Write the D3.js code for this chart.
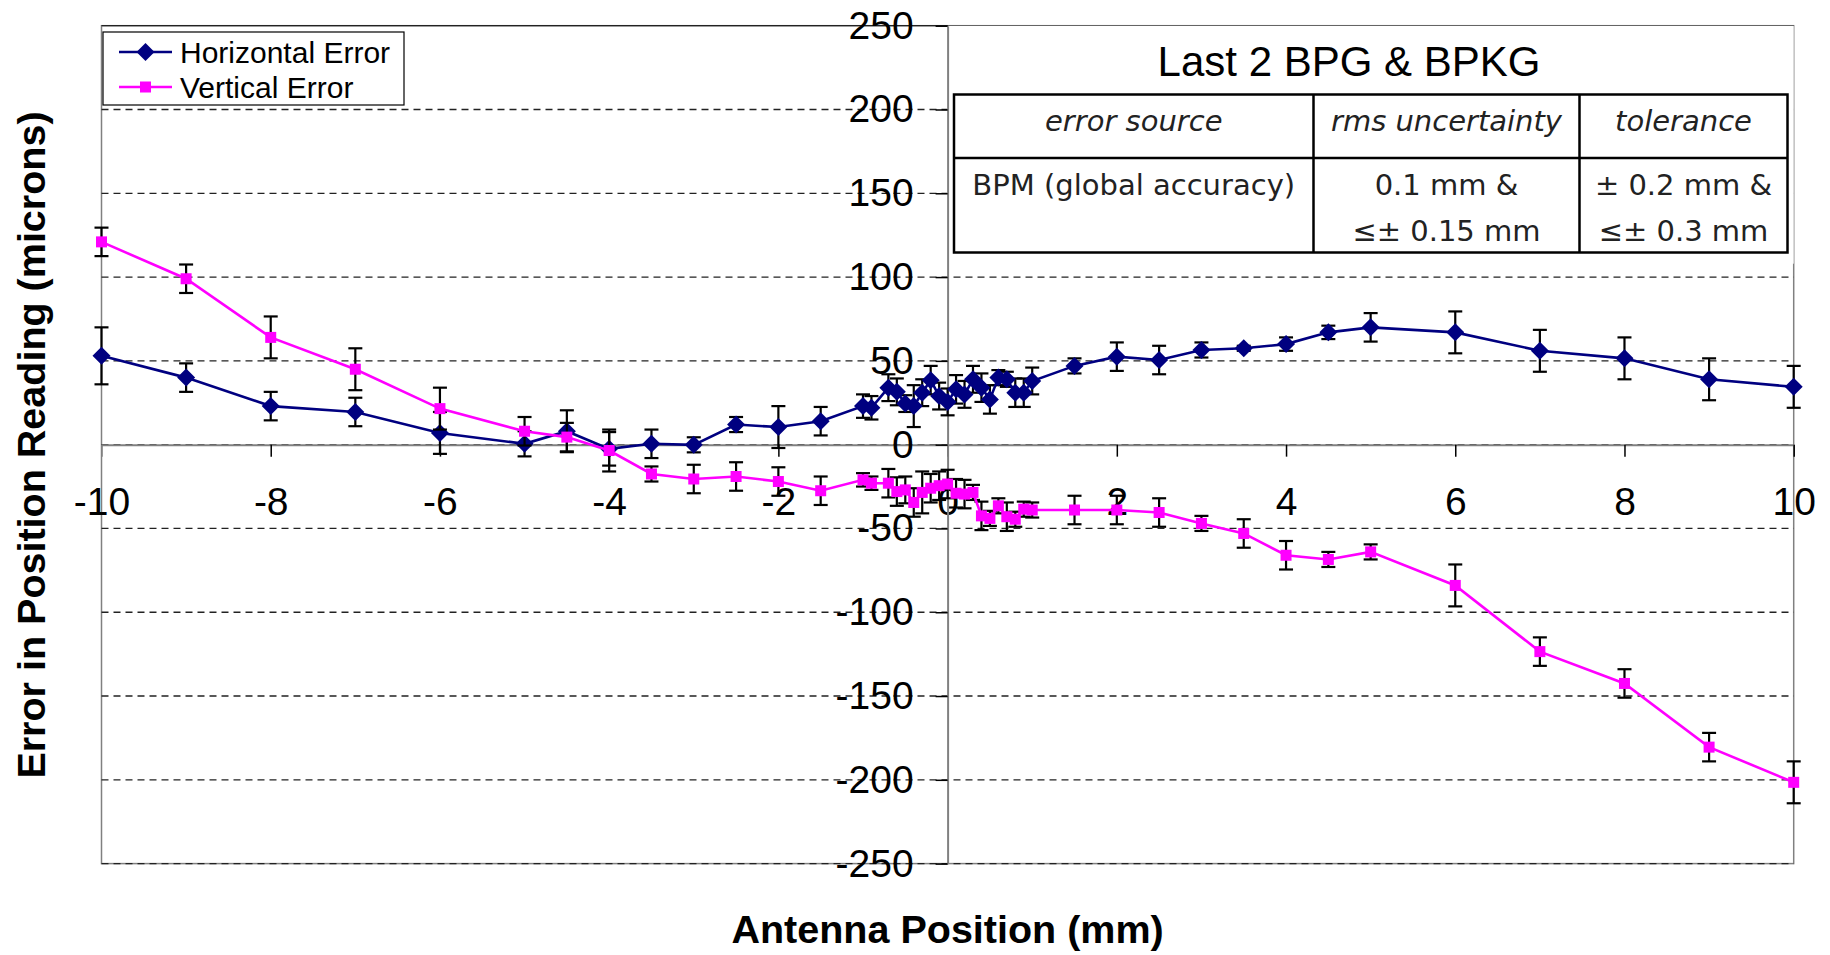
<!DOCTYPE html>
<html>
<head>
<meta charset="utf-8">
<script src="https://cdn.jsdelivr.net/npm/d3@7"></script>
<style>
  body { margin: 0; background: #fff; }
  text { font-family: "Liberation Sans", Arial, sans-serif; }
  .tbl text { font-family: "DejaVu Sans", Verdana, sans-serif; }
</style>
</head>
<body>
<svg id="chart" width="1830" height="955"></svg>
<script>
// antenna positions (mm), shared by both series
let positions = [-10, -9, -8, -7, -6, -5, -4.5, -4, -3.5, -3, -2.5, -2, -1.5,
	-1, -0.9, -0.7, -0.6, -0.5, -0.4, -0.3, -0.2, -0.1, 0, 0.1, 0.2, 0.3, 0.4, 0.5,
	0.6, 0.7, 0.8, 0.9, 1, 1.5, 2, 2.5, 3, 3.5, 4, 4.5, 5, 6, 7, 8, 9, 10];

let horizontalError = [53, 40, 23, 19.5, 7, 0.5, 8, -2.5, 0.5, -0.1, 12, 10.5, 14,
	23, 22, 34, 31.5, 24.5, 23, 31, 38.5, 29, 25.5, 33, 30, 39, 34, 27,
	40, 39, 31, 31, 38, 47, 52.5, 50.5, 56.5, 57.5, 60, 67, 70, 67, 56, 51.5, 39, 34.5];
let horizontalBar = [17, 8.5, 8.5, 8.5, 12.5, 7.5, 12.5, 10, 8.5, 4.5, 4.5, 12.5, 8.5,
	7, 7, 8, 8, 5, 12.5, 8, 8.5, 8, 8, 8.5, 8, 8, 8.5, 8.5,
	4.5, 4.5, 8.5, 8.5, 8, 4.5, 8.5, 8.5, 4.5, 1.5, 4, 4, 8.5, 12.5, 12.5, 12.5, 12.5, 12.5];

let verticalError = [121, 99, 64, 45, 21.5, 8, 4.5, -3.5, -17.5, -20.5, -19, -22, -27.5,
	-21, -23, -23, -28, -27, -34.5, -28.5, -26, -24.5, -23.5, -29, -29.5, -28.5, -42.5, -44,
	-36.5, -43, -44.5, -38.5, -39, -39, -39, -40.5, -47, -53, -66, -68.5, -64, -84, -123.5, -142.5, -180.5, -201.5];
let verticalBar = [8.5, 8.5, 12.5, 12.5, 12.5, 8.5, 8.5, 12.5, 4.5, 8.5, 8.5, 8.5, 8.5,
	4, 4, 8.5, 8.5, 8, 8.5, 12.5, 8.5, 8.5, 8.5, 8.5, 8.5, 4.5, 8.5, 4.5,
	4.5, 8.5, 4.5, 4.5, 4.5, 8.5, 8.5, 8.5, 4.5, 8.5, 8.5, 4.5, 4.5, 12.5, 8.5, 8.5, 8.5, 12.5];

let xTicks = d3.range(-10, 11, 2);
let yTicks = d3.range(-250, 251, 50);

let seriesNames = ["Horizontal Error", "Vertical Error"];
let seriesColors = ["#000080", "#ff00ff"];

let tableTitle = "Last 2 BPG & BPKG";
let tableHeader = ["error source", "rms uncertainty", "tolerance"];
let tableBody = [["BPM (global accuracy)", ""], ["0.1 mm &", "≤± 0.15 mm"], ["± 0.2 mm &", "≤± 0.3 mm"]];

let svg = d3.select("#chart");

let x = d3.scaleLinear().domain([-10, 10]).range([101.5, 1793.7]);
let y = d3.scaleLinear().domain([-250, 250]).range([863.6, 25.7]);

// plot frame
svg.append("rect")
	.attr("x", x(-10)).attr("y", y(250))
	.attr("width", x(10) - x(-10)).attr("height", y(-250) - y(250))
	.attr("fill", "none").attr("stroke", "#808080").attr("stroke-width", 1.5);

// dashed gridlines
svg.append("g").selectAll("line").data(yTicks).join("line")
	.attr("x1", x(-10)).attr("x2", x(10))
	.attr("y1", d => y(d)).attr("y2", d => y(d))
	.attr("stroke", "#222").attr("stroke-width", 1.3)
	.attr("stroke-dasharray", d => (d === 250 ? null : "7,5"));

// white text box behind table
svg.append("rect")
	.attr("x", x(0)).attr("y", y(250))
	.attr("width", x(10) - x(0)).attr("height", 238)
	.attr("fill", "#fff");

// axes crossing at zero
let xAxis = svg.append("g")
	.attr("transform", "translate(0," + y(0) + ")")
	.call(d3.axisBottom(x).tickValues(xTicks).tickFormat(d => String(d))
		.tickSize(12).tickSizeOuter(0).tickPadding(31));

let yAxis = svg.append("g")
	.attr("transform", "translate(" + x(0) + ",0)")
	.call(d3.axisLeft(y).tickValues(yTicks).tickFormat(d => String(d))
		.tickSize(12).tickSizeOuter(0).tickPadding(22));

[xAxis, yAxis].forEach(a => {
	a.select(".domain").attr("stroke", "#808080").attr("stroke-width", 2);
	a.selectAll(".tick line").attr("stroke", "#000").attr("stroke-width", 1.5);
	a.selectAll(".tick text").attr("font-size", 39).attr("fill", "#000")
		.attr("font-family", "Liberation Sans, Arial, sans-serif");
});
xAxis.select(".tick line").attr("stroke", "#808080");

// table
let tbl = svg.append("g").attr("class", "tbl");
let colX = [954, 1313.5, 1579.5, 1787.5];
let rowY = [94.5, 158, 252.5];

svg.append("text")
	.attr("x", 1349).attr("y", 76)
	.attr("text-anchor", "middle").attr("font-size", 42)
	.text(tableTitle);

tbl.append("rect")
	.attr("x", colX[0]).attr("y", rowY[0])
	.attr("width", colX[3] - colX[0]).attr("height", rowY[2] - rowY[0])
	.attr("fill", "none").attr("stroke", "#000").attr("stroke-width", 2.5);
tbl.append("line")
	.attr("x1", colX[0]).attr("x2", colX[3]).attr("y1", rowY[1]).attr("y2", rowY[1])
	.attr("stroke", "#000").attr("stroke-width", 2.5);
tbl.selectAll(".col").data([colX[1], colX[2]]).join("line")
	.attr("x1", d => d).attr("x2", d => d).attr("y1", rowY[0]).attr("y2", rowY[2])
	.attr("stroke", "#000").attr("stroke-width", 2.5);

tbl.selectAll(".hdr").data(tableHeader).join("text")
	.attr("x", (d, i) => (colX[i] + colX[i + 1]) / 2)
	.attr("y", 131)
	.attr("text-anchor", "middle").attr("font-size", 29)
	.attr("font-style", "italic").attr("fill", "#222")
	.text(d => d);

tableBody.forEach((lines, i) => {
	lines.forEach((t, j) => {
		tbl.append("text")
			.attr("x", (colX[i] + colX[i + 1]) / 2)
			.attr("y", 195 + j * 46)
			.attr("text-anchor", "middle").attr("font-size", 29).attr("fill", "#222")
			.text(t);
	});
});

// series
let diamond = r => "M0," + (-r) + "L" + r + ",0L0," + r + "L" + (-r) + ",0Z";

let series = [
	{ values: horizontalError, bars: horizontalBar },
	{ values: verticalError, bars: verticalBar }
];

series.forEach((s, k) => {
	let pts = positions.map((p, i) => ({ x: p, y: s.values[i], e: s.bars[i] }));
	let g = svg.append("g");

	let bars = g.append("g").selectAll("g").data(pts).join("g");
	bars.append("line")
		.attr("x1", d => x(d.x)).attr("x2", d => x(d.x))
		.attr("y1", d => y(d.y - d.e)).attr("y2", d => y(d.y + d.e));
	bars.append("line")
		.attr("x1", d => x(d.x) - 7).attr("x2", d => x(d.x) + 7)
		.attr("y1", d => y(d.y + d.e)).attr("y2", d => y(d.y + d.e));
	bars.append("line")
		.attr("x1", d => x(d.x) - 7).attr("x2", d => x(d.x) + 7)
		.attr("y1", d => y(d.y - d.e)).attr("y2", d => y(d.y - d.e));
	bars.selectAll("line").attr("stroke", "#000").attr("stroke-width", 2.2);

	g.append("path")
		.datum(pts)
		.attr("fill", "none")
		.attr("stroke", seriesColors[k])
		.attr("stroke-width", 2.6)
		.attr("d", d3.line().x(d => x(d.x)).y(d => y(d.y)));

	if (k === 0) {
		g.append("g").selectAll("path").data(pts).join("path")
			.attr("transform", d => "translate(" + x(d.x) + "," + y(d.y) + ")")
			.attr("d", diamond(9))
			.attr("fill", seriesColors[k]);
	} else {
		g.append("g").selectAll("rect").data(pts).join("rect")
			.attr("x", d => x(d.x) - 5.5).attr("y", d => y(d.y) - 5.5)
			.attr("width", 11).attr("height", 11)
			.attr("fill", seriesColors[k]);
	}
});

// legend
let legend = svg.append("g");
legend.append("rect")
	.attr("x", 103).attr("y", 32).attr("width", 301).attr("height", 73)
	.attr("fill", "#fff").attr("stroke", "#000").attr("stroke-width", 1.2);

seriesNames.forEach((name, k) => {
	let ly = 52 + k * 35;
	legend.append("line")
		.attr("x1", 119).attr("x2", 172).attr("y1", ly).attr("y2", ly)
		.attr("stroke", seriesColors[k]).attr("stroke-width", 2.6);
	if (k === 0) {
		legend.append("path")
			.attr("transform", "translate(145.5," + ly + ")")
			.attr("d", diamond(9)).attr("fill", seriesColors[k]);
	} else {
		legend.append("rect")
			.attr("x", 140).attr("y", ly - 5.5).attr("width", 11).attr("height", 11)
			.attr("fill", seriesColors[k]);
	}
	legend.append("text")
		.attr("x", 180).attr("y", ly + 10.5)
		.attr("font-size", 30)
		.text(name);
});

// axis titles
svg.append("text")
	.attr("x", x(0)).attr("y", 943)
	.attr("text-anchor", "middle").attr("font-size", 39.5).attr("font-weight", "bold")
	.text("Antenna Position (mm)");

svg.append("text")
	.attr("transform", "translate(45,445) rotate(-90)")
	.attr("text-anchor", "middle").attr("font-size", 39.5).attr("font-weight", "bold")
	.text("Error in Position Reading (microns)");
</script>
</body>
</html>
